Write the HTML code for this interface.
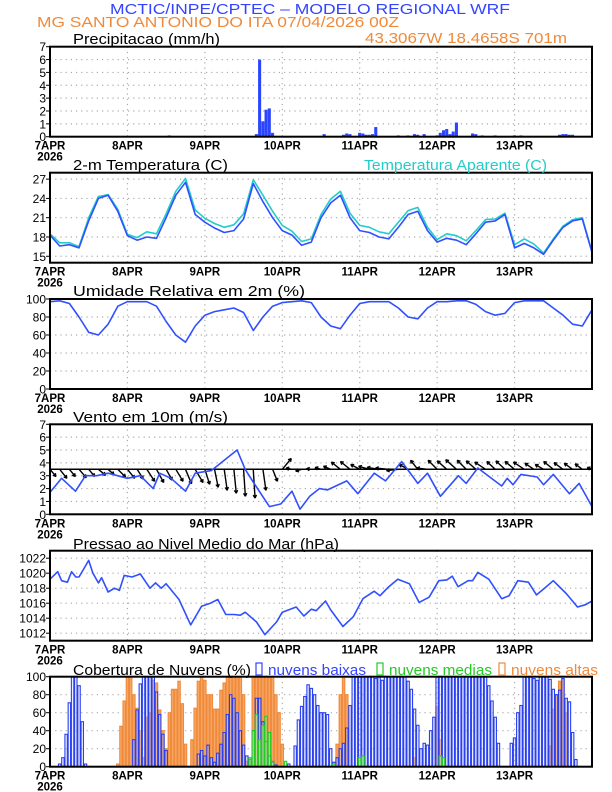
<!DOCTYPE html>
<html><head><meta charset="utf-8"><style>
html,body{margin:0;padding:0;background:#fff;}
svg{display:block;font-family:"Liberation Sans",sans-serif;}
</style></head><body>
<svg id="chart" width="612" height="792" viewBox="0 0 612 792" xmlns="http://www.w3.org/2000/svg">
<text x="110" y="14" font-size="15" fill="#3344ff" textLength="400" lengthAdjust="spacingAndGlyphs">MCTIC/INPE/CPTEC – MODELO REGIONAL WRF</text>
<text x="37" y="27" font-size="15" fill="#f08a3a" textLength="362" lengthAdjust="spacingAndGlyphs">MG SANTO ANTONIO DO ITA   07/04/2026 00Z</text>
<text x="365" y="43" font-size="15" fill="#f08a3a" textLength="202" lengthAdjust="spacingAndGlyphs">43.3067W 18.4658S 701m</text>
<g id="g"></g>
</svg>
<script>
const days=["7APR","8APR","9APR","10APR","11APR","12APR","13APR"];
const precipHours=[37,64,65,66,67,68,69,85,91,92,93,96,97,98,99,100,101,108,111,113,114,116,120,121,122,123,124,125,126,131,132,134,138,144,146,158,159,160,161,162];
const precipVals=[0.1,0.2,6.0,1.2,2.1,2.2,0.3,0.2,0.15,0.25,0.2,0.3,0.25,0.15,0.15,0.2,0.75,0.1,0.1,0.2,0.15,0.2,0.1,0.3,0.5,0.6,0.2,0.4,1.1,0.25,0.2,0.1,0.1,0.1,0.1,0.15,0.2,0.2,0.15,0.15];
const tempT=[18.3,16.6,16.8,16.3,20.5,24.0,24.5,22.0,18.2,17.5,18.0,17.8,21.0,24.5,26.5,21.5,20.3,19.4,18.7,19.0,20.8,26.3,23.5,21.0,19.0,18.3,16.7,17.2,21.0,23.3,24.5,21.0,19.0,18.7,18.0,17.7,19.5,21.5,22.0,19.0,17.2,17.8,17.5,16.8,18.5,20.3,20.5,21.5,16.3,17.0,16.3,15.3,17.5,19.5,20.5,20.8,15.6];
const tempApp=[18.5,17.1,17.1,16.5,21.0,24.3,24.6,22.3,18.4,17.9,18.8,18.5,21.6,25.1,27.1,22.2,20.9,20.1,19.5,19.9,21.6,26.9,24.5,22.0,19.8,18.9,17.3,17.7,21.5,23.9,25.1,21.7,19.8,19.5,18.8,18.5,20.3,22.1,22.6,19.5,17.6,18.5,18.2,17.4,19.0,20.7,20.8,21.7,16.8,17.7,16.9,15.5,17.7,19.7,20.7,21.0,15.7];
const rhVals=[97,98,95,80,63,60,72,92,97,97,97,92,75,60,52,70,82,86,88,90,85,65,80,92,96,97,98,96,80,70,67,82,95,97,97,97,90,80,78,90,97,97,98,98,94,86,82,84,96,98,98,98,90,82,72,70,88];
const windHours=[0,3.6,7.9,11,14.5,18,24,28,32,34,37.5,42,45,50,54.5,58,60.5,63,68,71.5,75,77.5,80.5,83.5,86,92,95.4,100.5,104,109,114,117,121,126.6,129,132.6,140,141.7,143.5,146,151,153,156,161,164,168];
const windSpeed=[1.7,2.8,1.8,3.0,3.0,3.2,2.8,3.0,2.0,3.2,2.8,1.8,3.2,3.4,4.3,5.0,3.5,2.5,0.6,0.8,1.8,0.4,1.4,2.0,1.9,2.6,1.6,3.2,2.6,4.1,2.4,3.2,1.4,3.0,2.4,3.6,2.2,2.8,2.3,3.1,2.9,2.3,3.1,1.6,2.4,0.6];
const windU=[1.0,1.2,1.0,1.2,1.0,1.2,1.0,1.3,1.2,1.0,1.3,1.2,1.0,1.2,1.0,1.3,0.8,0.6,0.5,0.4,0.3,0.3,0.5,0.8,1.5,-1.0,-1.0,-0.8,-1.0,-1.2,-1.5,-1.6,-1.5,-1.8,-2.0,-2.2,-2.0,-1.5,-1.2,-1.8,-1.5,-1.6,-1.8,-1.5,-1.6,-1.8,-1.4,-1.5,-1.6,-1.8,-1.5,-1.4,-1.6,-1.5,-1.4,-1.2,-0.8];
const windV=[-1.2,-1.5,-1.2,-1.4,-1.2,-1.0,-0.9,-1.3,-1.5,-1.6,-2.0,-2.2,-1.8,-2.0,-2.4,-2.2,-2.5,-3.0,-3.5,-4.0,-4.5,-4.8,-3.5,-2.0,1.8,0.2,-0.3,0.1,0.3,0.5,1.2,1.3,0.8,0.5,0.3,0.2,-0.2,0.8,1.5,0.2,1.5,1.4,1.6,1.5,1.4,1.2,1.3,1.4,1.3,1.2,1.0,0.8,1.3,1.1,1.0,0.9,0.3];
const presHours=[0,2.4,3.6,5.4,6.7,8,9,12,13.3,15,16,18,20,21.5,23,25.4,28,31,32.7,34.5,36,40,43.6,47,49.7,52,54.5,57,59,60.5,64,66.6,70.2,72,76.3,78.7,81,82.5,85.4,87,90.8,94,97,100.5,102.3,105,107.8,111.4,114.4,117.5,120.5,123,124.7,126.5,129.6,131,132.6,136,140,142.3,145,148.3,150.8,153,156,160,163.5,166,168];
const presVals=[1019.2,1020.2,1019.0,1018.8,1020.2,1019.5,1019.5,1021.7,1020.0,1018.7,1019.4,1017.5,1018.0,1017.7,1019.7,1019.5,1019.9,1018.0,1018.7,1018.0,1018.6,1016.5,1013.1,1015.6,1016.0,1016.5,1014.5,1014.5,1014.4,1014.8,1013.5,1011.8,1013.5,1014.8,1015.5,1014.3,1015.2,1015.0,1016.3,1015.1,1012.9,1014.2,1016.6,1017.6,1017.0,1018.2,1019.2,1018.6,1016.1,1016.8,1019.0,1019.1,1019.6,1018.2,1019.0,1019.0,1020.1,1019.2,1016.6,1017.0,1019.0,1018.8,1017.1,1017.9,1019.0,1017.3,1015.5,1015.8,1016.3];
const lowCloud=[0,0,0, 3,10,36,71,100,100,90,50,3, 0,0,0,0,0,0,0,0,0,0,0,0,0,0, 30,63,92,100,100,100,100,83,58,36,18, 0,0,0,0,0,0,0,0,0, 14,18,12,24,10,5,15,25,38,58,80,76,60,40,24,12,8,40,76,76,50,28,12,5,2, 0,0,0,3,0, 23,52,67,78,91,87,80,68,60,60,58,20,5,10,20,26,43,68, 100,100,100,100,100,100,100,98,100,96,100,100,100,100,100,100,100, 95,86,64,46,20,26,24,40,55, 100,100,100,100,100,100,100,100,100,100,100,100,100,100,100,100,90,73,55,26, 0,0,0, 26,32,60,68, 100,100,100,98,96,100,100,100, 97,86,80,85,98,76,72,38,8, 0,0,0,0];
const medHours=[62,63,64,65,66,67,68,69,73,88,96,97,121,122];
const medVals=[10,40,58,30,46,56,38,6,6,3,10,12,12,10];
const highHours=[21,22,23,24,25,26,27,28,29,30,31,32,33,34,35,36,37,38,39,40,41,42,44,45,46,47,48,49,50,51,52,53,54,55,56,57,58,59,60,61,62,63,64,65,66,67,68,69,70,71,72,89,90,91,92,113,120,121,155,156,157,158,159,160];
const highVals=[3,45,73,100,100,80,65,40,10,55,60,96,93,63,40,20,60,86,86,95,70,25,30,65,95,100,96,80,80,64,64,85,93,100,100,100,100,100,80,6,6,100,100,100,100,100,100,100,80,60,25,25,80,100,80,10,67,30,23,64,80,95,97,60];

const NS="http://www.w3.org/2000/svg";
const G=document.getElementById('g');
const X0=50,X1=592;
const sx=h=>X0+h*(X1-X0)/168;
function el(tag,attrs,parent){const e=document.createElementNS(NS,tag);for(const k in attrs)e.setAttribute(k,attrs[k]);(parent||G).appendChild(e);return e;}
function txt(s,x,y,attrs,parent){const t=el('text',Object.assign({x:x,y:y},attrs),parent);t.textContent=s;return t;}
function panel(name,top,ticks,ymin,ymax,fmt){
  const g=el('g',{});
  
  
  const bot=top+90;
  const sy=v=>bot-(v-ymin)*90/(ymax-ymin);
  for(let d=1;d<7;d++){const l=el('line',{x1:sx(d*24),x2:sx(d*24),y1:top,y2:bot,stroke:'#aaa','stroke-dasharray':'1.2,4','stroke-width':1.2},g);
    
    }
  ticks.forEach(v=>{const y=sy(v);
    if(y>top+1&&y<bot-1){const l=el('line',{x1:X0,x2:X1,y1:y,y2:y,stroke:'#aaa','stroke-dasharray':'1.2,4','stroke-width':1.2},g);
      
      }
    el('line',{x1:X0-4,x2:X0,y1:y,y2:y,stroke:'#000','stroke-width':1},g);
    const t=txt(fmt(v),46,y+4.5,{'font-size':12,'text-anchor':'end',fill:'#000'},g);
    
    
  });
  days.forEach((d,i)=>{const t=txt(d,sx(i*24),bot+13,{'font-size':11.5,'font-weight':'bold','text-anchor':'middle',fill:'#000'},g);
    
    });
  const y2=txt('2026',sx(0),bot+24,{'font-size':11.5,'font-weight':'bold','text-anchor':'middle',fill:'#000'},g);
  
  
  const data=el('g',{},g);
  const b=el('rect',{x:X0,y:top,width:X1-X0,height:90,fill:'none',stroke:'#000','stroke-width':2},g);
  
  
  return {sy,data,top,bot};
}
function title(s,x,y,w,color,name){const t=txt(s,x,y,{'font-size':15,fill:color||'#000',textLength:w,lengthAdjust:'spacingAndGlyphs'});
  
  }
function line(p,xs,ys,color,name){const pts=xs.map((h,i)=>sx(h).toFixed(1)+','+p.sy(ys[i]).toFixed(1)).join(' ');
  const l=el('polyline',{points:pts,fill:'none',stroke:color,'stroke-width':1.6,'stroke-linejoin':'round'},p.data);
  
  }
const hours3=tempT.map((_,i)=>i*3);
const bw=(X1-X0)/168;

// Precip
const P1=panel('precipitation',46.7,[0,1,2,3,4,5,6,7],0,7,v=>String(v));
title('Precipitacao (mm/h)',73,44,147,'#000','precip-title');
precipHours.forEach((h,i)=>{const y=P1.sy(precipVals[i]);
  const r=el('rect',{x:sx(h)-bw/2,y:y,width:bw*0.95,height:P1.bot-y,fill:'#2a44ff'},P1.data);
  
  });

// Temperature
const P2=panel('temperature',172.7,[15,18,21,24,27],14,28,v=>String(v));
title('2-m Temperatura (C)',73,170,155,'#000','temperature-title');
title('Temperatura Aparente (C)',364,170,183,'#22ccc8','apparent-temperature-title');
line(P2,hours3,tempApp,'#22ccc8','apparent-temperature-line');
line(P2,hours3,tempT,'#3050ff','temperature-line');

// RH
const P3=panel('humidity',299,[0,20,40,60,80,100],0,100,v=>String(v));
title('Umidade Relativa em 2m (%)',73,296,232,'#000','humidity-title');
line(P3,hours3,rhVals,'#3050ff','humidity-line');

// Wind
const P4=panel('wind',424.3,[0,1,2,3,4,5,6,7],0,7,v=>String(v));
title('Vento em 10m (m/s)',73,422,155,'#000','wind-title');
const by=P4.sy(3.5);
el('line',{x1:X0,x2:X1,y1:by,y2:by,stroke:'#000','stroke-width':1.5},P4.data);
windU.forEach((u,i)=>{const x=sx(i*3),v=windV[i],k=6;const x2=x+u*k,y2=by-v*k;
  const a=el('g',{},P4.data);
  
  
  el('line',{x1:x,y1:by,x2:x2,y2:y2,stroke:'#000','stroke-width':1.4},a);
  const ang=Math.atan2(y2-by,x2-x),hl=3.5;
  [0.5,-0.5].forEach(d=>el('line',{x1:x2,y1:y2,x2:x2-hl*Math.cos(ang+d),y2:y2-hl*Math.sin(ang+d),stroke:'#000','stroke-width':1.3},a));
});
line(P4,windHours,windSpeed,'#3050ff','wind-speed-line');

// Pressure
const P5=panel('pressure',550.7,[1012,1014,1016,1018,1020,1022],1011,1023,v=>String(v));
title('Pressao ao Nivel Medio do Mar (hPa)',73,549,266,'#000','pressure-title');
line(P5,presHours,presVals,'#3050ff','pressure-line');

// Clouds
const P6=panel('clouds',676.7,[0,20,40,60,80,100],0,100,v=>String(v));
title('Cobertura de Nuvens (%)',73,675,178,'#000','clouds-title');
function legend(x,color,label,w,name){const g=el('g',{});
  
  
  el('rect',{x:x,y:663,width:6,height:12,fill:'#fff',stroke:color,'stroke-width':1.2},g);
  txt(label,x+12,675,{'font-size':15,fill:color,textLength:w,lengthAdjust:'spacingAndGlyphs'},g);}
legend(256,'#3344ff','nuvens baixas',98,'legend-low-clouds');
legend(377,'#22cc22','nuvens medias',103,'legend-medium-clouds');
legend(499,'#f08a3a','nuvens altas',87,'legend-high-clouds');
function cbar(h,v,fill,stroke,name){const y=P6.sy(v);
  const r=el('rect',{x:sx(h)-bw/2+0.4,y:y,width:bw-0.8,height:P6.bot-y,fill:fill,stroke:stroke,'stroke-width':1.1},P6.data);
  
  }
highHours.forEach((h,i)=>cbar(h,highVals[i],'#f6a766','#f08a3a','high-cloud-bar'));
lowCloud.forEach((v,h)=>{cbar(h,v,'rgba(200,210,255,0.35)','#2a40ee','low-cloud-bar');});
medHours.forEach((h,i)=>cbar(h,medVals[i],'rgba(150,240,150,0.5)','#22cc22','medium-cloud-bar'));
</script>
</body></html>
